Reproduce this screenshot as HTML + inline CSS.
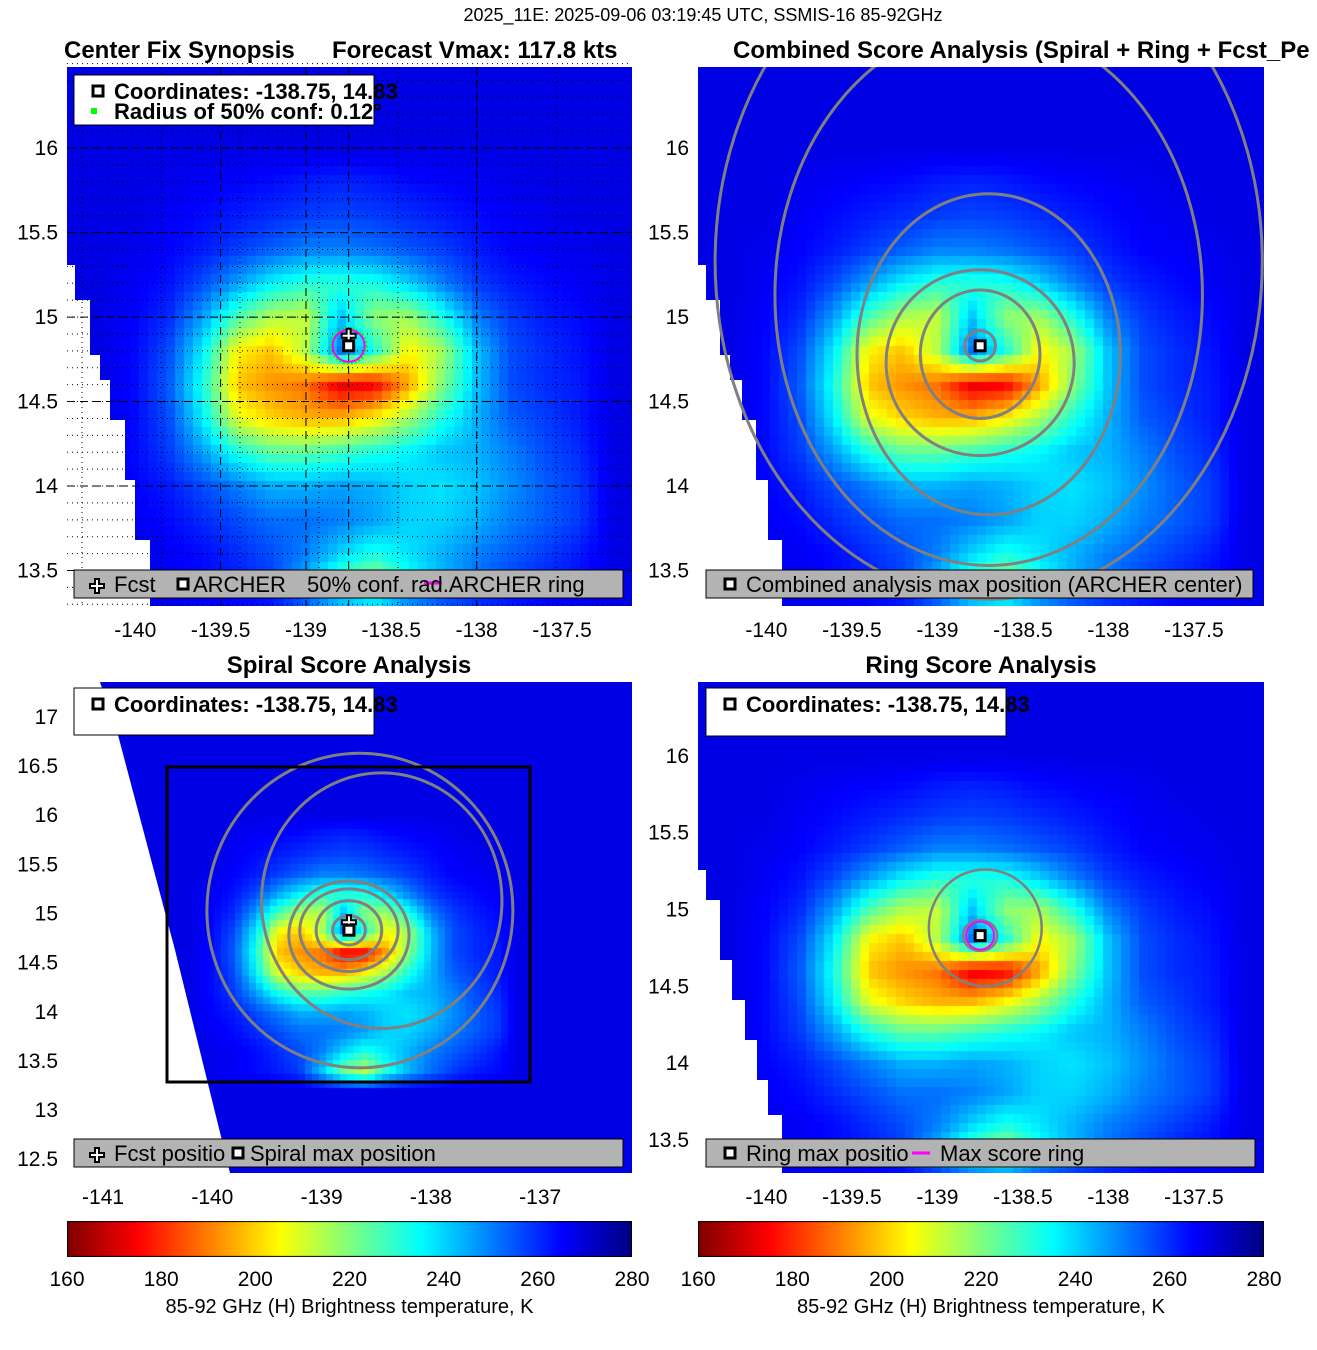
<!DOCTYPE html>
<html><head><meta charset="utf-8">
<style>
body{margin:0;background:#fff;font-family:"Liberation Sans",sans-serif;}
#root{position:relative;width:1317px;height:1350px;overflow:hidden;background:#fff;}
canvas{position:absolute;}
svg{position:absolute;left:0;top:0;}
.t{font-family:"Liberation Sans",sans-serif;}
</style></head><body>
<div id="root">
<canvas id="c0"></canvas>
<canvas id="c1"></canvas>
<canvas id="c2"></canvas>
<canvas id="c3"></canvas>
<canvas id="cb0" style="left:67px;top:1221px" width="565" height="36"></canvas>
<canvas id="cb1" style="left:698px;top:1221px" width="566" height="36"></canvas>
<svg id="ov" width="1317" height="1350"></svg>
</div>
<script>
// Brightness temperature grid (K): lon -140.0..-137.4 step 0.2, lat 15.8..13.4 step -0.2
const gridLons=[-140.0,-139.8,-139.6,-139.4,-139.2,-139.0,-138.8,-138.6,-138.4,-138.2,-138.0,-137.8,-137.6,-137.4];
const gridLats=[15.8,15.6,15.4,15.2,15.0,14.8,14.6,14.4,14.2,14.0,13.8,13.6,13.4];
const tbRows=[
[268,267,266,265,264,262,261,262,264,265,266,267,268,268],
[268,266,264,262,260,258,257,258,260,262,264,266,267,268],
[267,265,262,258,254,250,250,252,255,258,262,265,266,267],
[266,263,256,246,236,230,230,232,240,250,258,262,264,266],
[265,260,246,226,214,212,242,218,216,232,250,258,262,264],
[264,256,236,204,198,214,252,232,204,216,242,256,260,263],
[264,254,232,198,192,188,172,174,194,220,242,256,260,262],
[264,256,236,208,200,196,196,204,216,232,244,254,258,262],
[264,258,246,232,224,224,228,232,236,242,244,250,256,260],
[265,262,256,250,244,244,246,244,240,238,242,248,254,258],
[266,264,260,256,252,252,250,246,240,240,244,250,254,258],
[267,266,264,260,256,250,240,232,238,244,250,254,258,262],
[267,266,264,262,258,242,222,212,232,244,252,258,262,264]];
const bgTb=268;
const center=[-138.75,14.83];
// contour radii (deg) [rx, ry, dx, dy]
const combinedContours=[[0.09,0.09,0,0],[0.35,0.38,0,-0.05],[0.55,0.55,0,-0.1],[0.77,0.95,0.05,-0.05],[1.25,1.6,0.05,0.3],[1.6,2.0,0.05,0.5]];
const spiralContours=[[0.15,0.15,0,0],[0.3,0.3,0,0],[0.45,0.42,0,0],[0.55,0.55,0,-0.05],[1.1,1.3,0.3,0.3],[1.4,1.6,0.1,0.2]];
const ringContours=[[0.1,0.1,0,0],[0.33,0.38,0.03,0.05]];
const cbTicks=[160,180,200,220,240,260,280];

const panels=[
 {x0:67,y0:67,w:565,h:539,lon0:-140.40,lon1:-137.09,lat0:16.48,lat1:13.29,mask:[[67,265],[75,265],[75,300],[90,300],[90,355],[100,355],[100,380],[110,380],[110,420],[125,420],[125,480],[135,480],[135,540],[150,540],[150,606],[67,606]],
  xt:[-140,-139.5,-139,-138.5,-138,-137.5],yt:[16,15.5,15,14.5,14,13.5]},
 {x0:698,y0:67,w:566,h:539,lon0:-140.40,lon1:-137.09,lat0:16.48,lat1:13.29,mask:[[698,265],[706,265],[706,300],[720,300],[720,355],[730,355],[730,380],[742,380],[742,420],[756,420],[756,480],[768,480],[768,540],[782,540],[782,606],[698,606]],
  xt:[-140,-139.5,-139,-138.5,-138,-137.5],yt:[16,15.5,15,14.5,14,13.5]},
 {x0:67,y0:682,w:565,h:491,lon0:-141.33,lon1:-136.16,lat0:17.355,lat1:12.36,mask:[[67,682],[100,682],[118,735],[175,950],[230,1173],[67,1173]],
  xt:[-141,-140,-139,-138,-137],yt:[17,16.5,16,15.5,15,14.5,14,13.5,13,12.5]},
 {x0:698,y0:682,w:566,h:491,lon0:-140.40,lon1:-137.09,lat0:16.48,lat1:13.285,mask:[[698,870],[706,870],[706,900],[720,900],[720,960],[732,960],[732,1000],[745,1000],[745,1040],[757,1040],[757,1080],[768,1080],[768,1115],[782,1115],[782,1173],[698,1173]],
  xt:[-140,-139.5,-139,-138.5,-138,-137.5],yt:[16,15.5,15,14.5,14,13.5]}
];
function jet(v){let t=1-(v-160)/120;const c=x=>Math.max(0,Math.min(1,x));
 return [c(1.5-Math.abs(4*t-3))*255,c(1.5-Math.abs(4*t-2))*255,c(1.5-Math.abs(4*t-1))*255];}
function tbAt(lon,lat){
 const fi=(lon-gridLons[0])/0.2, fj=(gridLats[0]-lat)/0.2;
 const g=(i,j)=>(i<0||j<0||i>=gridLons.length||j>=gridLats.length)?bgTb:tbRows[j][i];
 const i0=Math.floor(fi),j0=Math.floor(fj),a=fi-i0,b=fj-j0;
 return g(i0,j0)*(1-a)*(1-b)+g(i0+1,j0)*a*(1-b)+g(i0,j0+1)*(1-a)*b+g(i0+1,j0+1)*a*b;}
const X=(p,lon)=>p.x0+(lon-p.lon0)/(p.lon1-p.lon0)*p.w;
const Y=(p,lat)=>p.y0+(lat-p.lat0)/(p.lat1-p.lat0)*p.h;
panels.forEach((p,k)=>{
 const cv=document.getElementById('c'+k);cv.width=p.w;cv.height=p.h;cv.style.left=p.x0+'px';cv.style.top=p.y0+'px';
 const ctx=cv.getContext('2d');const s=k==2?7:9;
 for(let y=0;y<p.h;y+=s)for(let x=0;x<p.w;x+=s){
  const lon=p.lon0+(x+s/2)/p.w*(p.lon1-p.lon0),lat=p.lat0+(y+s/2)/p.h*(p.lat1-p.lat0);
  const c=jet(tbAt(lon,lat));ctx.fillStyle=`rgb(${c[0]|0},${c[1]|0},${c[2]|0})`;ctx.fillRect(x,y,s,s);}
});
[0,1].forEach(k=>{const cv=document.getElementById('cb'+k),ctx=cv.getContext('2d');
 for(let x=0;x<cv.width;x++){const c=jet(160+120*x/cv.width);ctx.fillStyle=`rgb(${c[0]|0},${c[1]|0},${c[2]|0})`;ctx.fillRect(x,0,1,36);}
 ctx.strokeStyle='#000';ctx.strokeRect(0.5,0.5,cv.width-1,35);});
const NS='http://www.w3.org/2000/svg',ov=document.getElementById('ov');
function el(tag,at,txt){const e=document.createElementNS(NS,tag);for(const k in at)e.setAttribute(k,at[k]);if(txt!=null)e.textContent=txt;ov.appendChild(e);return e;}
function txt(x,y,s,anchor,weight,name){const e=el('text',{x:x,y:y,'font-size':anchor[1],'text-anchor':anchor[0],'font-weight':weight||'normal',class:'t',fill:'#000'},s);
 
 return e;}
panels.forEach((p,k)=>{
 const m=el('polygon',{points:p.mask.map(a=>a.join(',')).join(' '),fill:'#fff'});
 
 
 p.xt.forEach(v=>{txt(X(p,v),p.y0+p.h+31,String(v),['middle',21],null,'x-tick-label');});
 p.yt.forEach(v=>{txt(p.x0-9,Y(p,v)+7,String(v),['end',21],null,'y-tick-label');});
});
(function(){const p=panels[0];
 for(let lat=13.3;lat<16.5;lat+=0.1){const y=Y(p,lat);const l=el('line',{x1:p.x0,x2:p.x0+p.w,y1:y,y2:y,stroke:'#000','stroke-width':1,'stroke-dasharray':'1,4'});}
 for(let x=p.x0+15;x<p.x0+p.w;x+=79){const l=el('line',{x1:x,x2:x,y1:p.y0,y2:p.y0+p.h,stroke:'#000','stroke-width':1,'stroke-dasharray':'1,4'});}
 p.yt.forEach(v=>{const y=Y(p,v);const l=el('line',{x1:p.x0,x2:p.x0+p.w,y1:y,y2:y,stroke:'#000','stroke-width':1,'stroke-dasharray':'8,5'});});
 [-139.5,-139,-138.75,-138.0].forEach(v=>{const x=X(p,v);const l=el('line',{x1:x,x2:x,y1:p.y0,y2:p.y0+p.h,stroke:'#000','stroke-width':1,'stroke-dasharray':'8,5'});});
})();
[1,2,3].forEach(k=>{const p=panels[k];const cp=document.createElementNS(NS,'clipPath');cp.id='clp'+k;const r=document.createElementNS(NS,'rect');r.setAttribute('x',p.x0);r.setAttribute('y',p.y0);r.setAttribute('width',p.w);r.setAttribute('height',p.h);cp.appendChild(r);ov.appendChild(cp);});
function contoursIn(g,p,arr,w){arr.forEach(c=>{const cx=X(p,center[0]+c[2]),cy=Y(p,center[1]+c[3]);
 const rx=Math.abs(X(p,center[0]+c[0])-X(p,center[0])),ry=Math.abs(Y(p,center[1]+c[1])-Y(p,center[1]));
 const e=document.createElementNS(NS,'ellipse');
 e.setAttribute('cx',cx);e.setAttribute('cy',cy);e.setAttribute('rx',rx);e.setAttribute('ry',ry);
 e.setAttribute('fill','none');e.setAttribute('stroke','#808080');e.setAttribute('stroke-width',w);
 
 g.appendChild(e);});}
const g1=el('g',{'clip-path':'url(#clp1)'});contoursIn(g1,panels[1],combinedContours,3);
const g2=el('g',{'clip-path':'url(#clp2)'});contoursIn(g2,panels[2],spiralContours,3);
const g3=el('g',{'clip-path':'url(#clp3)'});contoursIn(g3,panels[3],ringContours,2.5);
const sb=el('rect',{x:167,y:767,width:363,height:315,fill:'none',stroke:'#000','stroke-width':3});

function marker(x,y,name){const r=el('rect',{x:x-5,y:y-5,width:10,height:10,fill:'#fff',stroke:'#000','stroke-width':3});
 }
function plus(x,y){const pth=el('path',{d:`M${x-2} ${y-7}h4v5h5v4h-5v5h-4v-5h-5v-4h5z`,fill:'#fff',stroke:'#000','stroke-width':2});
 }
panels.forEach((p,k)=>{const x=X(p,center[0]),y=Y(p,center[1]);
 if(k==0){const c=el('circle',{cx:x,cy:y,r:18,fill:'none',stroke:'#00ff00','stroke-width':2,'stroke-dasharray':'2,2'});
  const m=el('circle',{cx:x,cy:y,r:16,fill:'none',stroke:'#ff00ff','stroke-width':2});plus(x,y-10);}
 if(k==3){const m=el('circle',{cx:x,cy:y,r:14,fill:'none',stroke:'#ff00ff','stroke-width':2});}
 if(k==2)plus(x,y-8);
 marker(x,y,'center-marker');});
function box(x,y,w,h,fill,name){const r=el('rect',{x:x,y:y,width:w,height:h,fill:fill,stroke:'#000','stroke-width':1});}
box(74,75,300,50,'#fff','info-legend');
marker(98,91,'legend-marker');
const gs=el('rect',{x:91,y:108,width:6,height:6,fill:'#00ff00'});
txt(114,99,'Coordinates: -138.75, 14.83',['start',22],'bold','coordinates-text');
txt(114,119,'Radius of 50% conf: 0.12°',['start',22],'bold','radius-text');
box(74,570,549,28,'#b3b3b3','synopsis-legend');
plus(97,586);marker(183,584,'legend-marker');
const ml=el('line',{x1:424,x2:442,y1:583,y2:583,stroke:'#ff00ff','stroke-width':3});
txt(114,592,'Fcst',['start',22],null,'legend-fcst');
txt(193,592,'ARCHER',['start',22],null,'legend-archer');
txt(307,592,'50% conf. rad.ARCHER ring',['start',22],null,'legend-conf');
box(706,570,547,28,'#b3b3b3','combined-legend');marker(730,584,'legend-marker');
txt(746,592,'Combined analysis max position (ARCHER center)',['start',22],null,'legend-combined');
box(74,688,300,47,'#fff','spiral-info');marker(98,704,'legend-marker');
txt(114,712,'Coordinates: -138.75, 14.83',['start',22],'bold','spiral-coordinates');
box(74,1139,549,28,'#b3b3b3','spiral-legend');plus(97,1155);marker(238,1153,'legend-marker');
txt(114,1161,'Fcst positio',['start',22],null,'legend-fcst-pos');
txt(250,1161,'Spiral max position',['start',22],null,'legend-spiral');
box(706,688,300,48,'#fff','ring-info');marker(730,704,'legend-marker');
txt(746,712,'Coordinates: -138.75, 14.83',['start',22],'bold','ring-coordinates');
box(706,1139,549,28,'#b3b3b3','ring-legend');marker(730,1153,'legend-marker');
const ml2=el('line',{x1:912,x2:930,y1:1153,y2:1153,stroke:'#ff00ff','stroke-width':3});
txt(746,1161,'Ring max positio',['start',22],null,'legend-ring-max');
txt(940,1161,'Max score ring',['start',22],null,'legend-max-ring');
txt(703,21,'2025_11E: 2025-09-06 03:19:45 UTC, SSMIS-16 85-92GHz',['middle',18],null,'figure-title');
txt(64,58,'Center Fix Synopsis',['start',24],'bold','synopsis-title');
txt(332,58,'Forecast Vmax: 117.8 kts',['start',24],'bold','vmax-title');
txt(733,58,'Combined Score Analysis (Spiral + Ring + Fcst_Pe',['start',24],'bold','combined-title');
txt(349,673,'Spiral Score Analysis',['middle',24],'bold','spiral-title');
txt(981,673,'Ring Score Analysis',['middle',24],'bold','ring-title');
[[67,565],[698,566]].forEach(b=>{cbTicks.forEach(v=>{const x=b[0]+(v-160)/120*b[1];txt(x,1286,String(v),['middle',21],null,'colorbar-tick');});
 txt(b[0]+b[1]/2,1313,'85-92 GHz (H) Brightness temperature, K',['middle',20],null,'colorbar-label');});
</script>
</body></html>
